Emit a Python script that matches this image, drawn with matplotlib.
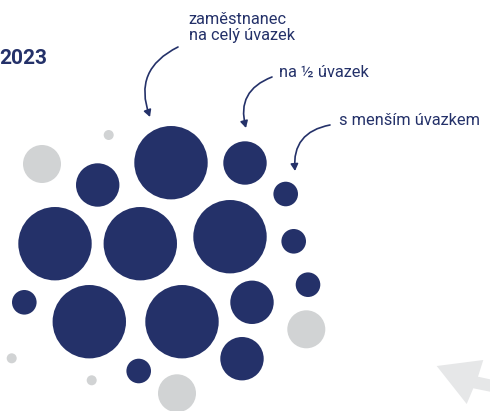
import matplotlib
matplotlib.use("Agg")
import matplotlib.pyplot as plt
from matplotlib.patches import Circle, Polygon, FancyArrowPatch

plt.rcParams['font.family'] = ['Roboto', 'DejaVu Sans']

navy = '#243169'
grey = '#d1d3d4'
light = '#e6e7e8'

# circles: centre x, centre y (pixels, from top), radius, kind
cx = [171, 245, 97.7, 55, 140.3, 230, 89.3, 182, 252, 242,
      285.7, 293.7, 308, 24.3, 138.7,
      42, 306.3, 177, 108.7, 11.7, 91.7]
cy = [162.7, 163, 185, 243.7, 243.7, 236.7, 321.7, 321.7, 302.3, 358.7,
      194, 241.3, 284.7, 302.3, 371,
      164, 329.3, 393.3, 135, 358.3, 380.3]
rad = [36.7, 21.7, 21.7, 36.7, 36.7, 36.7, 36.7, 36.7, 21.7, 21.7,
       12.3, 12.3, 12.3, 12.3, 12.3,
       19, 19, 19, 5, 5, 5]
kind = ['n'] * 15 + ['g'] * 6

labels = ['zaměstnanec\nna celý úvazek', 'na ½ úvazek', 's menším úvazkem']
label_xy = [(188.5, 27.5), (279, 72), (339, 120)]
arrow_from = [(178, 47), (272, 77), (330, 125)]
arrow_to = [(150, 117), (246, 128), (295, 171)]

fig = plt.figure(figsize=(4.9, 4.11), dpi=100)
ax = fig.add_axes([0, 0, 1, 1])
ax.set_xlim(0, 490)
ax.set_ylim(411, 0)
ax.set_aspect('equal')
ax.axis('off')

for x, y, r, k in zip(cx, cy, rad, kind):
    ax.add_patch(Circle((x, y), r, color=navy if k == 'n' else grey, lw=0))

# cursor shape bottom right
ax.add_patch(Polygon([(436.7, 366), (483.3, 360), (478, 376.7), (490, 379.3),
                      (490, 391.7), (473.3, 388.3), (466.7, 404)],
                     closed=True, color=light, lw=0))

ax.text(-1, 58.5, '2023', fontsize=15, fontweight='bold', color=navy,
        va='center', ha='left')

for t, (x, y) in zip(labels, label_xy):
    ax.text(x, y, t, fontsize=11.8, color=navy, va='center', ha='left',
            linespacing=1.15)

for a, b in zip(arrow_from, arrow_to):
    ax.add_patch(FancyArrowPatch(a, b, arrowstyle='-|>,head_length=4,head_width=2.2',
                                 connectionstyle='arc3,rad=0.45', color=navy,
                                 lw=1.2, shrinkA=0, shrinkB=0))

fig.savefig('out.png', dpi=100)
